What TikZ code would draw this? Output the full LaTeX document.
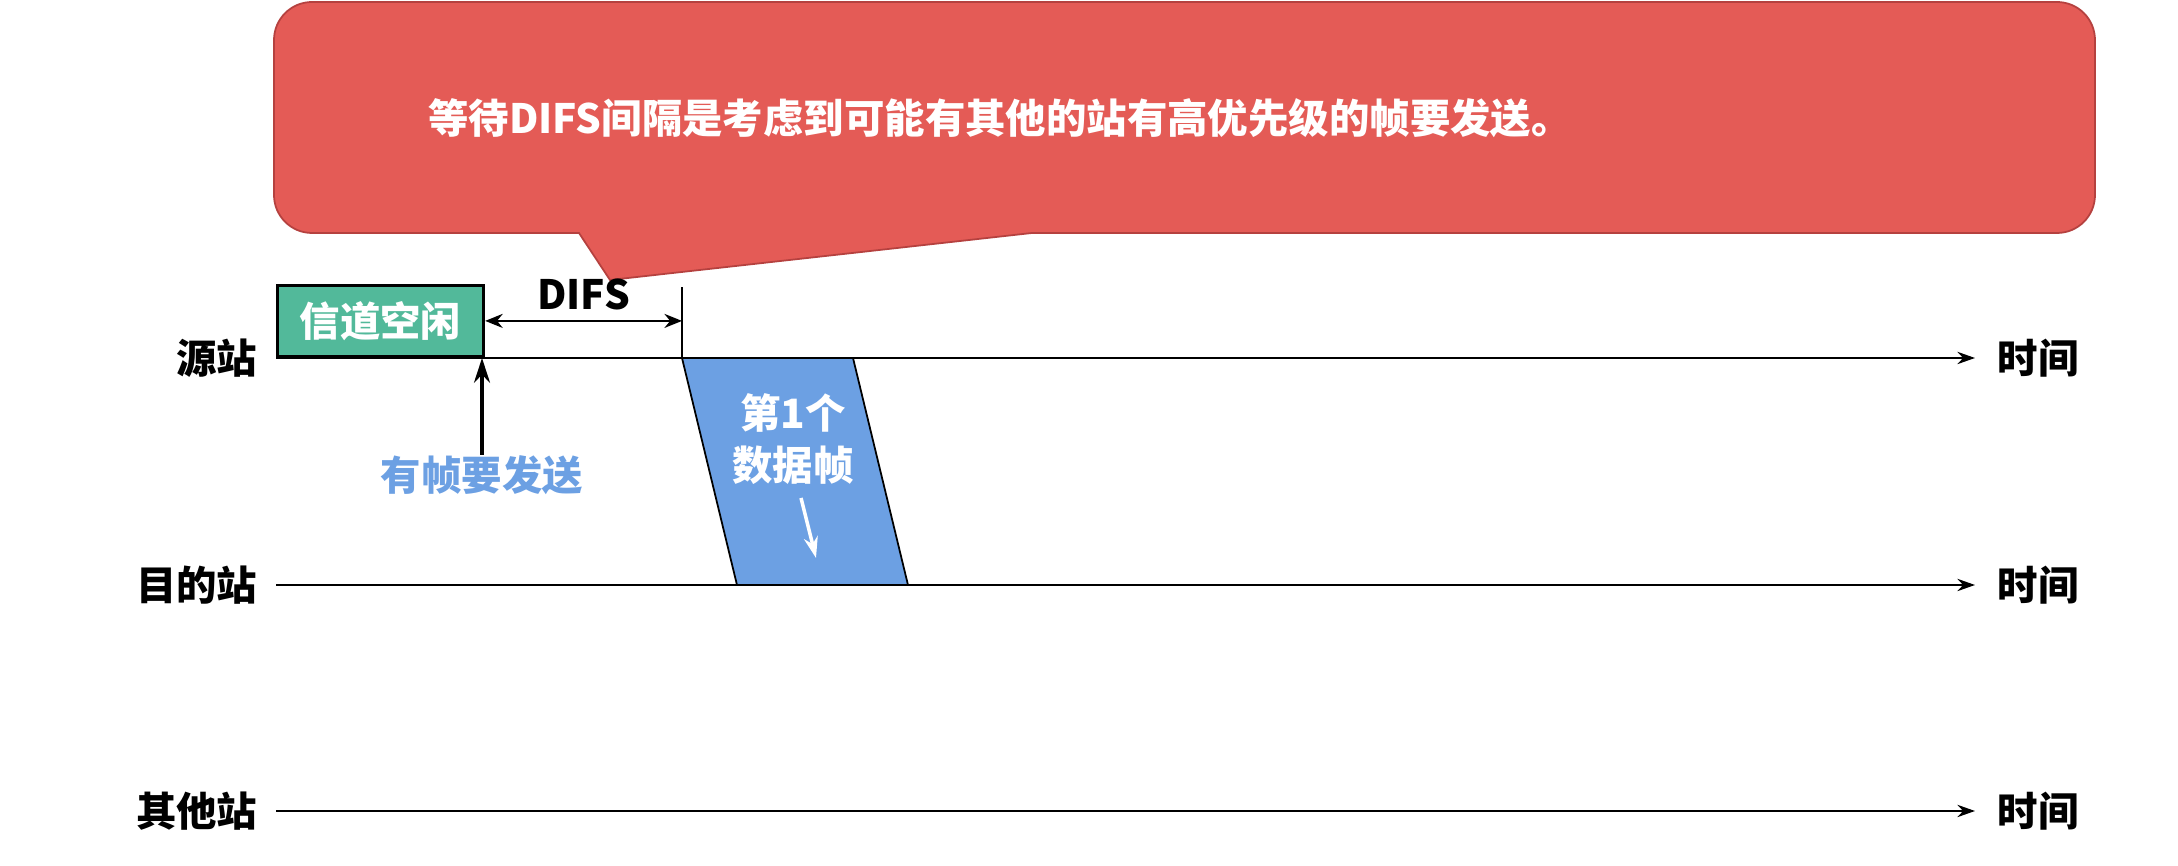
\documentclass[tikz,border=0pt]{standalone}
\usepackage{fontspec}
\setmainfont{Noto Sans CJK SC}
\usetikzlibrary{arrows.meta,positioning,calc}
\definecolor{callred}{HTML}{E45B56}
\definecolor{calledge}{HTML}{B5413F}
\definecolor{idlegreen}{HTML}{52B99A}
\definecolor{frameblue}{HTML}{6CA0E3}

\begin{document}
\begin{tikzpicture}[>=Stealth,
  txt/.style={font=\fontsize{11.5}{14.8}\selectfont\bfseries,inner sep=0pt},
  axis/.style={line width=0.6pt,-{Stealth[length=5pt,width=3.5pt]}}]
\useasboundingbox (0,0) rectangle (21.78,8.66);
\filldraw[fill=callred,draw=calledge,line width=0.5pt] (5.79,6.33) -- (6.10,5.86) -- (10.32,6.33) -- (20.57,6.33)
  arc[start angle=-90,end angle=0,radius=0.38] -- (20.95,8.26)
  arc[start angle=0,end angle=90,radius=0.38] -- (3.12,8.64)
  arc[start angle=90,end angle=180,radius=0.38] -- (2.74,6.71)
  arc[start angle=180,end angle=270,radius=0.38] -- cycle;
\node[txt,text=white] (note) at (10.0,7.48) {等待DIFS间隔是考虑到可能有其他的站有高优先级的帧要发送。};

\coordinate (send) at (6.82,5.08);
\fill[frameblue] (send) -- (8.53,5.08) -- (9.08,2.81) -- (7.37,2.81) -- cycle;
\draw[line width=0.5pt] (send) -- (7.37,2.81);
\draw[line width=0.5pt] (8.53,5.08) -- (9.08,2.81);
\node[txt,text=white,align=center] (frame) at (7.93,4.27) {第1个\\数据帧};
\draw[-{Stealth[length=6pt,width=4pt]},white,line width=1pt] (8.01,3.68) -- (8.16,3.08);

\node[txt,anchor=east] (src) at (2.58,5.08) {源站};
\node[txt,anchor=east] (dst) at (2.58,2.81) {目的站};
\node[txt,anchor=east] (oth) at (2.58,0.55) {其他站};
\foreach \n in {src,dst,oth}{
  \node[txt,anchor=west] (t\n) at ($(\n.east)+(17.39,0)$) {时间};
  \draw[axis] ([xshift=0.18cm]\n.east) -- ([xshift=-0.22cm]t\n.west);
}

\node[txt,text=white,draw=black,fill=idlegreen,line width=0.9pt,minimum width=2.06cm,minimum height=0.71cm,anchor=south west] (idle) at (2.76,5.08) {信道空闲};
\draw[line width=0.5pt] (send) -- ++(0,0.71) coordinate (difs);
\draw[{Stealth[length=5pt,width=4pt]}-{Stealth[length=5pt,width=4pt]},line width=0.6pt] (idle.east) -- (idle.east -| send) node[txt,midway,above=0.1cm] (difslbl) {DIFS};
\node[txt,text=frameblue,anchor=north] (want) at (4.82,4.11) {有帧要发送};
\draw[-{Stealth[length=7pt,width=4.5pt]},line width=1.3pt] (want) -- (want |- send);
\end{tikzpicture}
\end{document}
